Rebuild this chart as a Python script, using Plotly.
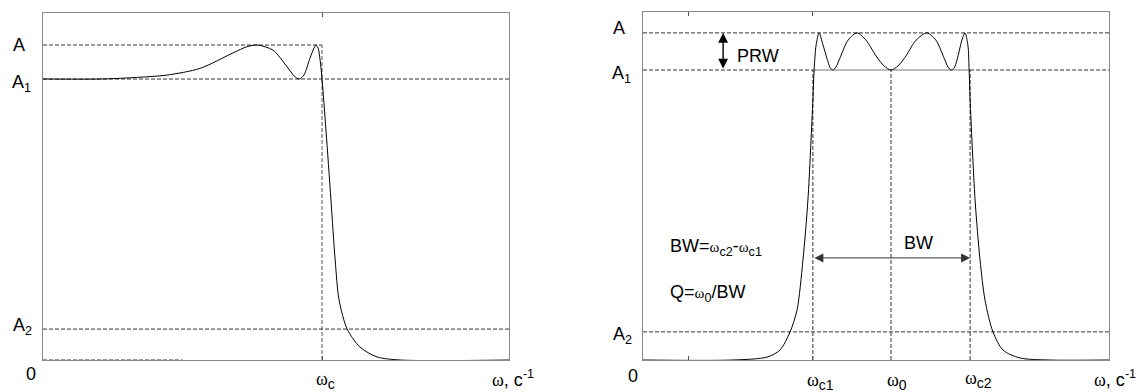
import plotly.graph_objects as go

W, H = 1145, 392

# ---------------- Left panel: low-pass response ----------------
lp_w = [0, 0.204, 0.323, 0.444, 0.563, 0.681, 0.731, 0.767, 0.824, 0.875, 0.900, 0.918,
        0.935, 0.957, 0.971, 0.978, 0.986, 0.993, 1.0, 1.014, 1.032, 1.047, 1.061, 1.090,
        1.136, 1.197, 1.280, 1.670]
lp_a = [1.0, 1.0, 1.005, 1.014, 1.038, 1.093, 1.115, 1.121, 1.103, 1.043, 1.011, 1.0,
        1.014, 1.075, 1.110, 1.121, 1.110, 1.068, 1.0, 0.819, 0.569, 0.356, 0.214, 0.110,
        0.046, 0.011, 0.0, 0.0]
lp_levels = {"A": 1.121, "A1": 1.0, "A2": 0.110}
lp_wc = 1.0
lp_xmax, lp_ymax = 1.670, 1.235

# ---------------- Right panel: band-pass response ----------------
bp_w = [0, 0.363, 0.500, 0.552, 0.593, 0.621, 0.645, 0.665, 0.685, 0.690, 0.698, 0.710,
        0.726, 0.746, 0.756, 0.766, 0.778, 0.794, 0.827, 0.863, 0.899, 0.940, 0.972, 1.0,
        1.028, 1.060, 1.101, 1.145, 1.181, 1.214, 1.230, 1.242, 1.254, 1.266, 1.286, 1.298,
        1.310, 1.315, 1.319, 1.339, 1.359, 1.379, 1.411, 1.452, 1.520, 1.637, 1.879]
bp_a = [0, 0, 0.010, 0.034, 0.097, 0.172, 0.345, 0.552, 0.897, 1.0, 1.086, 1.128,
        1.086, 1.028, 1.006, 1.0, 1.010, 1.041, 1.103, 1.128, 1.103, 1.048, 1.014, 1.0,
        1.014, 1.048, 1.103, 1.128, 1.103, 1.041, 1.010, 1.0, 1.006, 1.034, 1.103, 1.128,
        1.086, 1.0, 0.897, 0.552, 0.345, 0.207, 0.097, 0.034, 0.007, 0.0, 0.0]
bp_levels = {"A": 1.128, "A1": 1.0, "A2": 0.097}
bp_wc1, bp_w0, bp_wc2 = 0.685, 1.0, 1.319
bp_xmax, bp_ymax = 1.879, 1.2
bp_ticks = [0.185, 0.685]
prw_x, bw_y = 0.323, 0.352

SANS = "Liberation Sans, Arial, sans-serif"
SERIF = "Liberation Serif, Times New Roman, serif"
OM = f"<span style='font-family:{SERIF}'>ω</span>"
DASH = "4px,2px"
DCOL = "#333333"
FRAME = "#8a8a8a"

fig = go.Figure()


def line(x, y, xa, ya, dash=DASH, color=DCOL, width=1):
    fig.add_trace(go.Scatter(x=x, y=y, xaxis=xa, yaxis=ya, mode="lines",
                             line=dict(color=color, width=width, dash=dash),
                             hoverinfo="skip", showlegend=False))

# Left reference lines
line([0, lp_wc], [lp_levels["A"]] * 2, "x", "y")
line([lp_wc, lp_wc], [0, lp_levels["A"]], "x", "y", color="#555555")
line([0, lp_xmax], [lp_levels["A1"]] * 2, "x", "y")
line([0, lp_xmax], [lp_levels["A2"]] * 2, "x", "y")
line([0, 0.5], [0, 0], "x", "y")
# Left curve
fig.add_trace(go.Scatter(x=lp_w, y=lp_a, xaxis="x", yaxis="y", mode="lines",
                         line=dict(color="black", width=1, shape="spline", smoothing=0.8),
                         hoverinfo="skip", showlegend=False))

# Right reference lines
line([0, bp_xmax], [bp_levels["A"]] * 2, "x2", "y2")
line([0, bp_wc1], [bp_levels["A1"]] * 2, "x2", "y2")
line([bp_wc2, bp_xmax], [bp_levels["A1"]] * 2, "x2", "y2")
line([bp_wc1, bp_wc2], [bp_levels["A1"]] * 2, "x2", "y2", dash="solid", color="#777777")
line([0, bp_xmax], [bp_levels["A2"]] * 2, "x2", "y2")
for xv in (bp_wc1, bp_w0, bp_wc2):
    line([xv, xv], [0, bp_levels["A1"]], "x2", "y2")
fig.add_trace(go.Scatter(x=bp_w, y=bp_a, xaxis="x2", yaxis="y2", mode="lines",
                         line=dict(color="black", width=1, shape="spline", smoothing=0.8),
                         hoverinfo="skip", showlegend=False))

ax_common = dict(showgrid=False, zeroline=False, showline=True, linecolor=FRAME,
                 linewidth=1, mirror="ticks", ticks="inside", ticklen=4,
                 tickcolor="#555555", showticklabels=False)
fig.update_layout(
    width=W, height=H, margin=dict(l=0, r=0, t=0, b=0),
    paper_bgcolor="white", plot_bgcolor="white", showlegend=False,
    font=dict(family=SANS, size=18, color="black"),
    xaxis=dict(domain=[43 / W, 509 / W], range=[0, lp_xmax], tickvals=[lp_wc], **ax_common),
    yaxis=dict(domain=[32 / H, 379 / H], range=[0, lp_ymax], tickvals=[], **ax_common),
    xaxis2=dict(domain=[643 / W, 1109 / W], range=[0, bp_xmax], tickvals=bp_ticks,
                anchor="y2", **ax_common),
    yaxis2=dict(domain=[32 / H, 380 / H], range=[0, bp_ymax], tickvals=[], anchor="x2",
                **ax_common),
)


def ann(text, x, y, xref, yref, xanchor="left", yanchor="middle", size=18, xshift=0, yshift=0):
    fig.add_annotation(text=text, x=x, y=y, xref=xref, yref=yref, xanchor=xanchor,
                       yanchor=yanchor, showarrow=False, font=dict(size=size, family=SANS),
                       xshift=xshift, yshift=yshift)


def px(v):
    return v / W


def py(v):
    return 1 - v / H


SUB = "<sub><span style='font-size:14px'>{}</span></sub>"

# Left axis labels
ann("A", px(11), lp_levels["A"], "paper", "y")
ann("A<sub>1</sub>", px(10), lp_levels["A1"], "paper", "y", yshift=-4)
ann("A<sub>2</sub>", px(11), lp_levels["A2"], "paper", "y", yshift=3)
ann("0", px(31), py(374), "paper", "paper", xanchor="center")
ann(OM + SUB.format("c"), lp_wc, py(380), "x", "paper", xshift=-8)
ann(f"{OM}, c<sup>-1</sup>", px(490), py(378), "paper", "paper")

# Right axis labels
ann("A", px(611), bp_levels["A"], "paper", "y2", yshift=5)
ann("A<sub>1</sub>", px(610), bp_levels["A1"], "paper", "y2", yshift=-4)
ann("A<sub>2</sub>", px(611), bp_levels["A2"], "paper", "y2", yshift=-4)
ann("0", px(633), py(376), "paper", "paper", xanchor="center")
ann(OM + SUB.format("c1"), bp_wc1, py(381), "x2", "paper", xshift=-8)
ann(OM + SUB.format("0"), bp_w0, py(381), "x2", "paper", xshift=-6)
ann(OM + SUB.format("c2"), bp_wc2, py(379), "x2", "paper", xshift=-7)
ann(f"{OM}, c<sup>-1</sup>", px(1092), py(378), "paper", "paper")

# PRW double arrow and text
fig.add_annotation(x=prw_x, y=bp_levels["A"], ax=prw_x, ay=bp_levels["A1"],
                   xref="x2", yref="y2", axref="x2", ayref="y2", text="",
                   showarrow=True, arrowhead=2, arrowside="end+start", arrowsize=1.4,
                   arrowwidth=1.4, arrowcolor="black")
ann("PRW", 0.371, 1.048, "x2", "y2", size=18)

# BW arrow and texts
fig.add_annotation(x=bp_wc2, y=bw_y, ax=bp_wc1, ay=bw_y,
                   xref="x2", yref="y2", axref="x2", ayref="y2", text="",
                   showarrow=True, arrowhead=2, arrowside="end+start", arrowsize=1.8,
                   arrowwidth=1, arrowcolor="#333333")
ann("BW", 1.109, 0.403, "x2", "y2", xanchor="center", size=18)
OMS = f"<span style='font-family:{SERIF};font-size:15px'>ω</span>"
ann(f"BW={OMS}<sub>c2</sub>-{OMS}<sub>c1</sub>", 0.101, 0.40, "x2", "y2", size=18, yshift=-3)
ann(f"Q={OMS}<sub>0</sub>/BW", 0.101, 0.241, "x2", "y2", size=18, yshift=-3)

fig.write_html("out.html", config={"displayModeBar": False},
               post_script="document.body.style.margin='0';")
